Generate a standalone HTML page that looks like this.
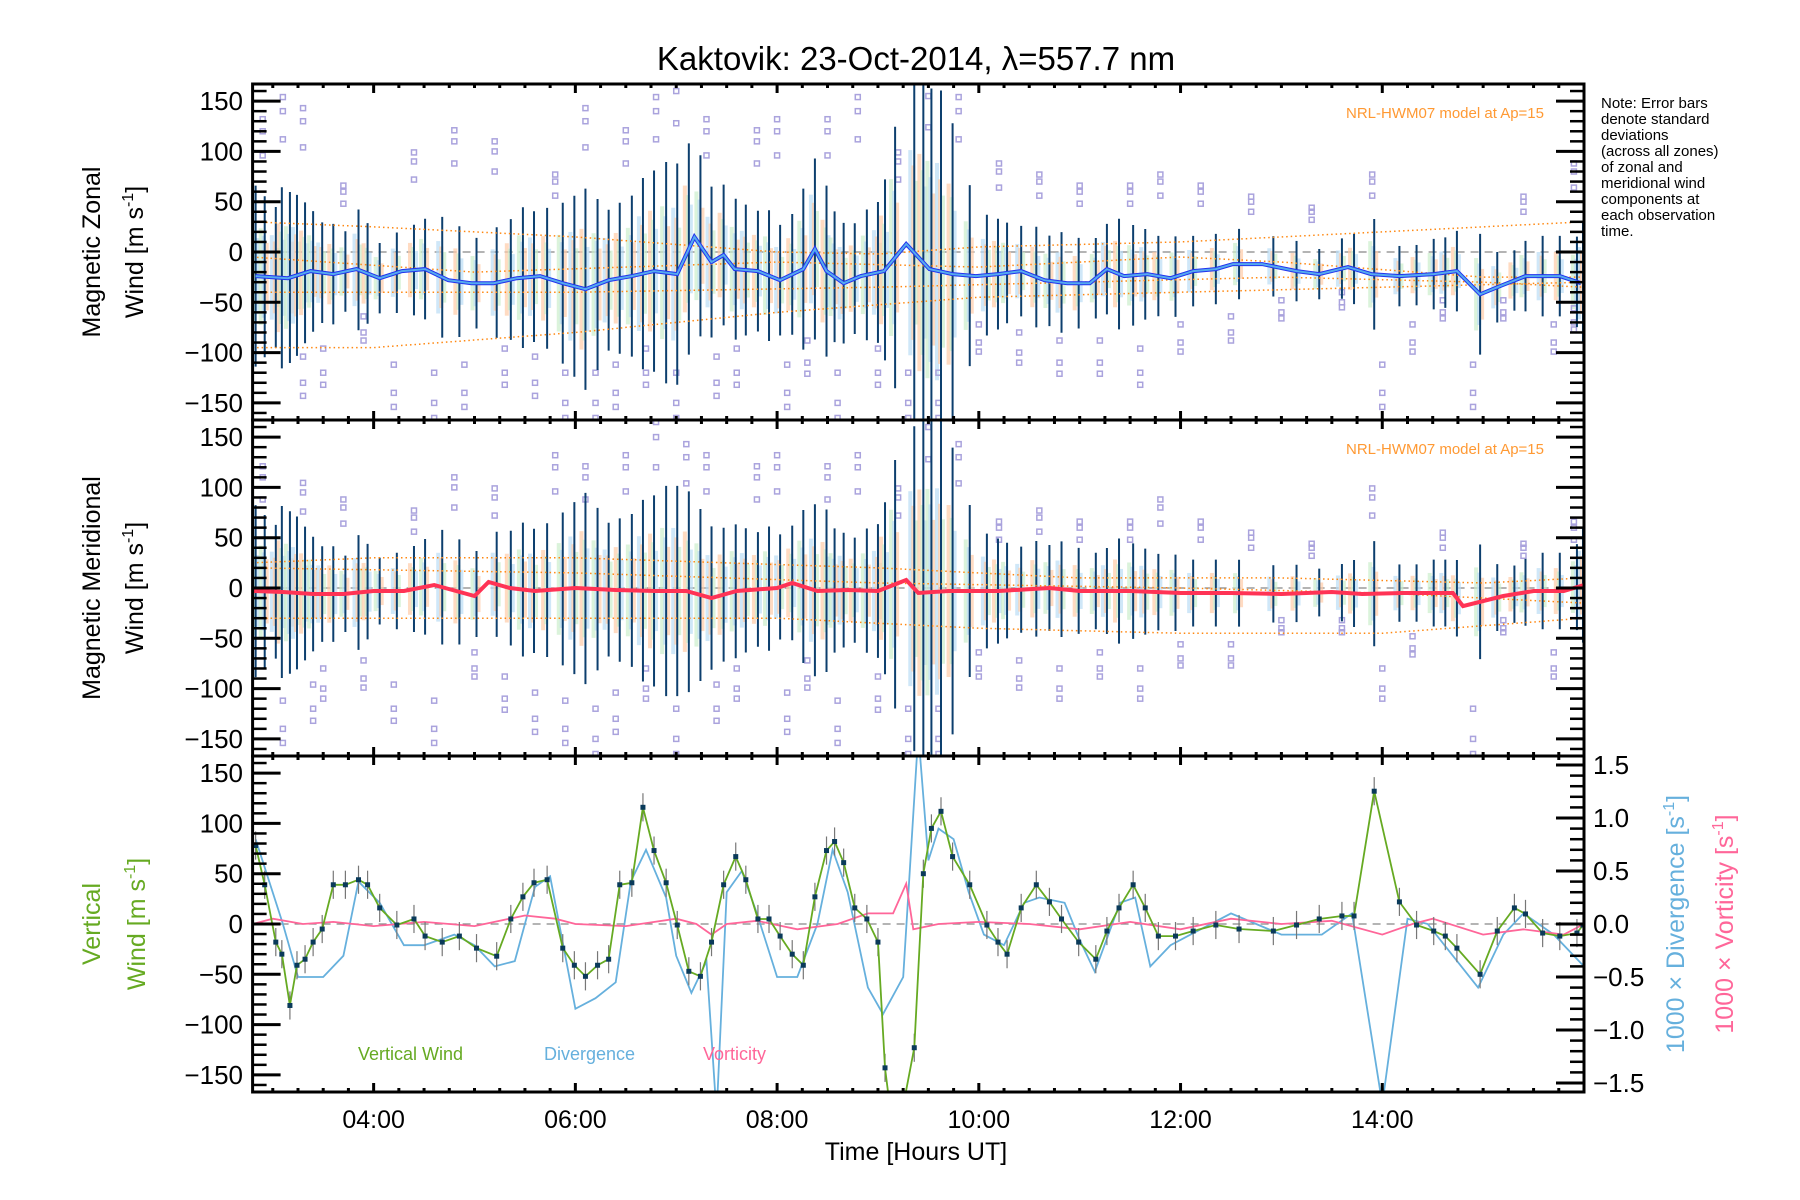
<!DOCTYPE html>
<html><head><meta charset="utf-8"><style>
html,body{margin:0;padding:0;background:#fff;}
svg{display:block;font-family:"Liberation Sans",sans-serif;}
</style></head><body>
<svg id="chart" width="1800" height="1200" viewBox="0 0 1800 1200" xmlns="http://www.w3.org/2000/svg">
<defs>
<clipPath id="c1"><rect x="252.6" y="84" width="1331.4" height="336"/></clipPath>
<clipPath id="c2"><rect x="252.6" y="420" width="1331.4" height="336"/></clipPath>
<clipPath id="c3"><rect x="252.6" y="756" width="1331.4" height="336"/></clipPath>
</defs>
<text x="916" y="70" font-size="33" text-anchor="middle">Kaktovik: 23-Oct-2014, λ=557.7 nm</text>
<g id="g1" clip-path="url(#c1)"></g>
<g id="g2" clip-path="url(#c2)"></g>
<g id="g3" clip-path="url(#c3)"></g>
<g id="axes"></g>
<g>
<text transform="translate(100,252) rotate(-90)" font-size="25" text-anchor="middle">Magnetic Zonal</text>
<text transform="translate(143,252) rotate(-90)" font-size="25" text-anchor="middle">Wind [m s<tspan font-size="16" dy="-10">-1</tspan><tspan dy="10">]</tspan></text>
</g>
<g>
<text transform="translate(100,588) rotate(-90)" font-size="25" text-anchor="middle">Magnetic Meridional</text>
<text transform="translate(143,588) rotate(-90)" font-size="25" text-anchor="middle">Wind [m s<tspan font-size="16" dy="-10">-1</tspan><tspan dy="10">]</tspan></text>
</g>
<g fill="#66aa22">
<text transform="translate(100,924) rotate(-90)" font-size="25" text-anchor="middle">Vertical</text>
<text transform="translate(145,924) rotate(-90)" font-size="25" text-anchor="middle">Wind [m s<tspan font-size="16" dy="-10">-1</tspan><tspan dy="10">]</tspan></text>
</g>
<text transform="translate(1684,924) rotate(-90)" font-size="25" text-anchor="middle" fill="#66b0dd">1000 × Divergence [s<tspan font-size="16" dy="-10">-1</tspan><tspan dy="10">]</tspan></text>
<text transform="translate(1733,924) rotate(-90)" font-size="25" text-anchor="middle" fill="#ff6699">1000 × Vorticity [s<tspan font-size="16" dy="-10">-1</tspan><tspan dy="10">]</tspan></text>
<g font-size="15">
<text x="1601" y="108">Note: Error bars</text>
<text x="1601" y="124">denote standard</text>
<text x="1601" y="140">deviations</text>
<text x="1601" y="156">(across all zones)</text>
<text x="1601" y="172">of zonal and</text>
<text x="1601" y="188">meridional wind</text>
<text x="1601" y="204">components at</text>
<text x="1601" y="220">each observation</text>
<text x="1601" y="236">time.</text>
</g>
<text x="1544" y="118" font-size="15" fill="#ff9933" text-anchor="end">NRL-HWM07 model at Ap=15</text>
<text x="1544" y="454" font-size="15" fill="#ff9933" text-anchor="end">NRL-HWM07 model at Ap=15</text>
<text x="358" y="1060" font-size="18" fill="#66aa22">Vertical Wind</text>
<text x="544" y="1060" font-size="18" fill="#66b0dd">Divergence</text>
<text x="703" y="1060" font-size="18" fill="#ff6699">Vorticity</text>
<text x="916" y="1160" font-size="25" text-anchor="middle">Time [Hours UT]</text>
</svg>
<script>
const obsT=[2.83,2.92,3.03,3.09,3.17,3.24,3.32,3.40,3.49,3.60,3.72,3.85,3.94,4.06,4.23,4.40,4.51,4.68,4.85,5.02,5.22,5.36,5.48,5.59,5.72,5.875,5.99,6.10,6.22,6.33,6.44,6.56,6.67,6.78,6.90,7.01,7.125,7.24,7.35,7.47,7.59,7.69,7.81,7.92,8.03,8.15,8.26,8.375,8.49,8.57,8.66,8.77,8.89,9.00,9.07,9.17,9.36,9.45,9.53,9.625,9.74,9.91,10.08,10.19,10.28,10.42,10.57,10.70,10.82,10.99,11.16,11.27,11.39,11.53,11.65,11.78,11.95,12.125,12.35,12.58,12.92,13.15,13.375,13.60,13.72,13.92,14.17,14.34,14.51,14.625,14.74,14.97,15.14,15.31,15.42,15.59,15.76,15.93,15.99];
const vertW=[78,39,-18,-30,-81,-41,-35,-18,-5,39,39,44,39,16,-1,5,-12,-18,-12,-24,-32,5,27,41,44,-24,-41,-52,-41,-35,39,41,116,73,41,-1,-47,-52,-18,39,67,44,5,5,-12,-30,-41,27,73,82,61,16,5,-18,-143,-223,-123,50,95,112,67,39,-1,-18,-30,16,39,22,5,-18,-35,-7,16,39,16,-12,-12,-7,-1,-5,-7,-1,5,8,8,132,22,-1,-7,-12,-24,-50,-7,16,10,-9,-12,-9,-1];
const sigma=[90,80,70,90,85,80,70,60,50,50,40,60,50,35,40,45,50,60,55,45,55,60,70,65,70,80,90,100,85,70,75,80,95,100,110,110,105,90,75,70,70,65,60,65,55,60,80,90,85,65,60,55,65,70,90,130,170,180,180,180,150,90,60,55,50,45,50,45,50,45,40,45,55,50,45,40,40,35,35,35,30,30,25,30,35,55,30,30,35,35,40,60,35,30,35,40,40,45,60];
const zonT=[2.83,3.15,3.375,3.60,3.83,4.06,4.28,4.51,4.74,4.97,5.19,5.42,5.65,5.875,6.10,6.33,6.56,6.78,7.01,7.18,7.35,7.47,7.58,7.81,8.03,8.26,8.375,8.49,8.66,8.83,9.06,9.28,9.51,9.74,9.97,10.19,10.42,10.65,10.875,11.10,11.27,11.44,11.67,11.90,12.125,12.35,12.52,12.81,13.15,13.375,13.66,13.89,14.17,14.51,14.74,14.97,15.19,15.42,15.76,15.97];
const zonV=[-24,-26,-19,-22,-17,-26,-19,-17,-28,-31,-31,-26,-24,-31,-37,-28,-24,-19,-22,15,-10,-3,-17,-19,-28,-17,3,-19,-31,-24,-19,8,-17,-22,-24,-22,-19,-28,-31,-31,-17,-24,-22,-26,-19,-17,-12,-12,-19,-22,-15,-22,-24,-22,-19,-42,-33,-24,-24,-31];
const merT=[2.8,3.1,3.4,3.7,4.0,4.3,4.6,5.0,5.14,5.35,5.6,6.0,6.4,6.8,7.1,7.35,7.6,8.0,8.15,8.4,8.7,9.0,9.28,9.4,9.7,10.2,10.7,11.0,11.5,12.0,12.5,13.0,13.5,13.8,14.2,14.7,14.8,15.2,15.5,15.8,16.0];
const merV=[-3,-4,-6,-6,-3,-3,3,-8,6,0,-3,0,-2,-3,-3,-10,-3,0,5,-3,-2,-3,8,-5,-3,-3,0,-3,-3,-5,-5,-6,-4,-6,-5,-5,-18,-8,-3,-3,3];
const divT=[2.83,3.1,3.25,3.5,3.7,3.85,4.06,4.3,4.5,4.8,5.0,5.2,5.4,5.6,5.75,6.0,6.2,6.4,6.55,6.7,6.9,7.0,7.15,7.3,7.4,7.5,7.65,7.8,8.0,8.2,8.4,8.55,8.7,8.9,9.05,9.25,9.4,9.5,9.6,9.75,9.9,10.05,10.25,10.45,10.6,10.85,11.0,11.15,11.4,11.55,11.7,11.9,12.1,12.5,12.75,13.0,13.4,13.7,14.0,14.25,14.45,14.7,14.95,15.2,15.4,15.7,16.0];
const divV=[0.8,0,-0.5,-0.5,-0.3,0.4,0.2,-0.2,-0.2,-0.1,-0.2,-0.4,-0.35,0.35,0.45,-0.8,-0.7,-0.55,0.4,0.7,0.25,-0.3,-0.65,-0.35,-1.8,0.3,0.5,0.1,-0.5,-0.5,0,0.7,0.3,-0.6,-0.85,-0.5,1.8,0.6,0.9,0.8,0.3,-0.1,-0.2,0.2,0.25,0.2,-0.15,-0.45,0.2,0.25,-0.4,-0.2,-0.1,0.1,0,-0.1,-0.1,0.1,-1.7,0.05,0,-0.3,-0.6,-0.1,0.1,-0.1,-0.4];
const vorT=[2.8,3.0,3.3,3.6,4.0,4.5,5.0,5.5,5.8,6.0,6.5,7.0,7.2,7.35,7.5,7.8,8.2,8.6,8.9,9.15,9.28,9.35,9.6,10.0,10.5,11.0,11.5,12.0,12.5,13.0,13.5,14.0,14.3,14.5,15.0,15.4,15.8,16.0];
const vorV=[0,0.05,0,0.02,-0.02,0.02,-0.02,0.08,0.05,0,-0.02,0.05,0,-0.1,0,0.03,-0.05,0,0.1,0.1,0.38,-0.05,0,0.02,0,-0.05,0.02,-0.05,0.05,0,0.03,-0.1,0,0.05,-0.1,-0.05,-0.1,0];
const scat1T=[2.9,3.1,3.3,3.3,3.5,3.7,3.9,4.2,4.4,4.6,4.8,4.9,5.2,5.3,5.6,5.8,5.9,6.1,6.2,6.4,6.5,6.7,6.8,7.0,7.0,7.3,7.4,7.6,7.8,8.0,8.1,8.3,8.5,8.6,8.8,9.0,9.2,9.3,9.5,9.6,9.8,10.0,10.2,10.4,10.6,10.8,11.0,11.2,11.5,11.6,11.8,12.0,12.2,12.5,12.7,13.0,13.3,13.6,13.9,14.0,14.3,14.6,14.9,15.2,15.4,15.7,15.9,15.9];
const scat1V=[120,140,130,-130,-120,60,-80,-140,90,-150,110,-140,100,-120,-130,70,-150,130,-150,-140,110,-120,140,-150,160,120,-130,-120,110,120,-140,-110,120,-150,140,-120,90,-150,155,-150,140,-90,80,-100,70,-110,60,-110,60,-120,70,-90,60,-80,50,-60,40,-50,70,-140,-90,-60,-140,-60,50,-90,-70,80];
const scat2T=[2.9,3.1,3.3,3.4,3.5,3.7,3.9,4.2,4.4,4.6,4.8,5.0,5.2,5.3,5.6,5.8,5.9,6.1,6.2,6.4,6.5,6.7,6.8,7.0,7.1,7.3,7.4,7.6,7.8,8.0,8.1,8.3,8.5,8.6,8.8,9.0,9.2,9.3,9.5,9.6,9.8,10.0,10.2,10.4,10.6,10.8,11.0,11.2,11.5,11.6,11.8,12.0,12.2,12.5,12.7,13.0,13.3,13.6,13.9,14.0,14.3,14.6,14.9,15.2,15.4,15.7,15.9];
const scat2V=[110,-140,95,-120,-100,80,-90,-120,70,-140,100,-80,90,-110,-130,120,-140,110,-150,-130,120,-100,150,-150,130,120,-120,-100,110,120,-130,-90,110,-140,120,-110,90,-150,160,-150,130,-80,60,-90,70,-100,60,-80,60,-100,80,-70,60,-70,50,-40,40,-40,90,-100,-60,50,-150,-40,40,-80,60];
const mod1=[[[2.8,4,6,8,9,10,12,14,16],[30,25,15,0,-2,5,10,20,30]],[[2.8,4,6,8,10,12,14,16],[-95,-95,-80,-60,-45,-40,-35,-30]],[[2.8,5,8,10,12,13,15,16],[-5,-20,-10,-15,-5,-10,-25,-25]],[[2.8,6,9,11,13,15,16],[-40,-40,-35,-30,-25,-30,-35]]];
const mod2=[[[2.8,4,6,9,11,13,15,16],[25,30,30,20,10,10,5,10]],[[2.8,5,8,10,12,14,16],[-30,-30,-30,-40,-45,-45,-30]],[[2.8,6,9,12,14,16],[20,15,5,0,-5,-15]]];
const xTickLabels=["04:00","06:00","08:00","10:00","12:00","14:00"];
const yTickVals=[-150,-100,-50,0,50,100,150];
const rTickVals=[-1.5,-1.0,-0.5,0.0,0.5,1.0,1.5];

const NS="http://www.w3.org/2000/svg";
const X0=252.6,X1=1584,TMIN=2.8,TMAX=16.0,PH=336,YR=167,RR=1.585;
const tops=[84,420,756];
function xs(t){return X0+(t-TMIN)/(TMAX-TMIN)*(X1-X0);}
function ys(p,v){return tops[p]+PH/2-v/YR*(PH/2);}
function yr(v){return tops[2]+PH/2-v/RR*(PH/2);}
function mk(tag,attrs,parent){const e=document.createElementNS(NS,tag);for(const k in attrs)e.setAttribute(k,attrs[k]);parent.appendChild(e);return e;}
const g=[document.getElementById('g1'),document.getElementById('g2'),document.getElementById('g3')];
const ax=document.getElementById('axes');
function interp(T,V,t){if(t<=T[0])return V[0];for(let i=1;i<T.length;i++){if(t<=T[i]){const f=(t-T[i-1])/(T[i]-T[i-1]);return V[i-1]+f*(V[i]-V[i-1]);}}return V[V.length-1];}

for(let p=0;p<2;p++){
  const gp=g[p];
  const cT=p===0?zonT:merT, cV=p===0?zonV:merV;
  const fac=p===0?1:0.95;
  const z=mk('line',{x1:X0,x2:X1,y1:ys(p,0),y2:ys(p,0),stroke:'#888','stroke-dasharray':'8,6','stroke-width':1.2},gp);
  
  
  const bars=[];
  for(let i=0;i<obsT.length;i++){bars.push([obsT[i],sigma[i]]);}
  bars.forEach(([t,s],k)=>{
    const c=interp(cT,cV,t),x=xs(t),sv=s*fac*0.6;
    const cols=['#ffcca8','#cceecc','#bbddf5'];
    for(let j=0;j<3;j++){
      const r=mk('rect',{x:x-6+j*3,y:ys(p,c+sv*(1-j*0.15)),width:4,height:ys(p,c-sv*(1-j*0.15))-ys(p,c+sv*(1-j*0.15)),fill:cols[(k+j)%3],opacity:0.7},gp);
      
      
    }
  });
  const sT=p===0?scat1T:scat2T, sV=p===0?scat1V:scat2V;
  for(let i=0;i<sT.length;i++){
    [1,0.8,1.1].forEach(f=>{
      const r=mk('rect',{x:xs(sT[i])-2.5,y:ys(p,sV[i]*f)-2.5,width:5,height:5,fill:'none',stroke:'#aaa3dd','stroke-width':1.5},gp);
      
      
    });
  }
  bars.forEach(([t,s])=>{
    const c=interp(cT,cV,t),x=xs(t),sv=s*fac;
    const l=mk('line',{x1:x,x2:x,y1:ys(p,c+sv),y2:ys(p,c-sv),stroke:'#0d3f6e','stroke-width':2},gp);
    
    
  });
  (p===0?mod1:mod2).forEach(([T,V])=>{
    let d='';for(let t=TMIN;t<=TMAX+0.001;t+=0.05){d+=(d?'L':'M')+xs(t).toFixed(1)+','+ys(p,interp(T,V,t)).toFixed(1);}
    const m=mk('path',{d:d,fill:'none',stroke:'#ff8811','stroke-width':1.5,'stroke-dasharray':'1.5,3'},gp);
    
    
  });
  const d=cT.map((t,i)=>(i?'L':'M')+xs(t).toFixed(1)+','+ys(p,cV[i]).toFixed(1)).join('');
  if(p===0){
    const a=mk('path',{d:d,fill:'none',stroke:'#2233ee','stroke-width':4},gp);
    
    
    const b=mk('path',{d:d,fill:'none',stroke:'#55aaee','stroke-width':2},gp);
    
    
  }else{
    const a=mk('path',{d:d,fill:'none',stroke:'#ff3355','stroke-width':4},gp);
    
    
  }
}

{
  const gp=g[2];
  const z=mk('line',{x1:X0,x2:X1,y1:ys(2,0),y2:ys(2,0),stroke:'#888','stroke-dasharray':'8,6','stroke-width':1.2},gp);
  
  
  const dd=divT.map((t,i)=>(i?'L':'M')+xs(t).toFixed(1)+','+yr(divV[i]).toFixed(1)).join('');
  const dv=mk('path',{d:dd,fill:'none',stroke:'#66b0dd','stroke-width':1.8},gp);
  
  
  const vd=vorT.map((t,i)=>(i?'L':'M')+xs(t).toFixed(1)+','+yr(vorV[i]).toFixed(1)).join('');
  const vo=mk('path',{d:vd,fill:'none',stroke:'#ff6699','stroke-width':1.8},gp);
  
  
  for(let i=0;i<obsT.length;i++){
    const x=xs(obsT[i]);
    const e=mk('line',{x1:x,x2:x,y1:ys(2,vertW[i]+14),y2:ys(2,vertW[i]-14),stroke:'#777','stroke-width':1.2},gp);
    
    
  }
  const gd=obsT.map((t,i)=>(i?'L':'M')+xs(t).toFixed(1)+','+ys(2,vertW[i]).toFixed(1)).join('');
  const gl=mk('path',{d:gd,fill:'none',stroke:'#66aa22','stroke-width':1.8},gp);
  
  
  for(let i=0;i<obsT.length;i++){
    const pt=mk('rect',{x:xs(obsT[i])-2.5,y:ys(2,vertW[i])-2.5,width:5,height:5,fill:'#0a3a5a'},gp);
    
    
  }
}

for(let p=0;p<3;p++){
  const t=tops[p];
  const fr=mk('rect',{x:X0,y:t,width:X1-X0,height:PH,fill:'none',stroke:'#000','stroke-width':3},ax);
  
  
  for(let v=-160;v<=160;v+=10){
    const y=ys(p,v),maj=v%50===0;
    const L=maj?28:14;
    const tk=mk('line',{x1:X0,x2:X0+L,y1:y,y2:y,stroke:'#000','stroke-width':maj?3:2.5},ax);
    
    
    if(p<2){
      const tk2=mk('line',{x1:X1,x2:X1-L,y1:y,y2:y,stroke:'#000','stroke-width':maj?3:2.5},ax);
      
      
    }
  }
  yTickVals.forEach(v=>{
    const tx=mk('text',{x:243,y:ys(p,v)+9,'font-size':26,'text-anchor':'end'},ax);
    tx.textContent=v<0?'−'+Math.abs(v):String(v);
    
    
  });
  for(let m=180;m<=960;m+=15){
    const h=m/60;if(h<TMIN||h>TMAX)continue;
    const x=xs(h),maj=m%120===0;
    const L=maj?9:4;
    const a=mk('line',{x1:x,x2:x,y1:t+PH,y2:t+PH-L,stroke:'#000','stroke-width':3},ax);
    
    
    const b=mk('line',{x1:x,x2:x,y1:t,y2:t+L,stroke:'#000','stroke-width':3},ax);
    
    
  }
}
for(let v=-1.5;v<=1.501;v+=0.1){
  const y=yr(v),maj=Math.abs(Math.round(v*10))%5===0;
  const L=maj?28:14;
  const tk=mk('line',{x1:X1,x2:X1-L,y1:y,y2:y,stroke:'#000','stroke-width':maj?3:2.5},ax);
  
  
}
rTickVals.forEach(v=>{
  const tx=mk('text',{x:1593,y:yr(v)+9,'font-size':26},ax);
  tx.textContent=(v<0?'−':'')+Math.abs(v).toFixed(1);
  
  
});
xTickLabels.forEach(s=>{
  const h=parseInt(s,10);
  const tx=mk('text',{x:xs(h),y:1128,'font-size':25,'text-anchor':'middle'},ax);
  tx.textContent=s;
  
  
});
</script>
</body></html>
